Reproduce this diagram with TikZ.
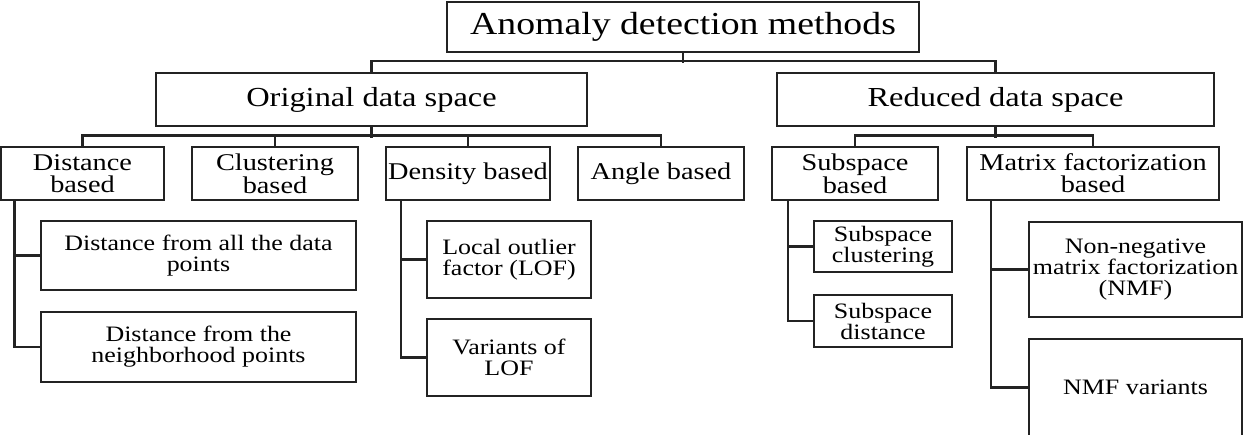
\documentclass[tikz,border=0pt]{standalone}
\usepackage{fontspec}
\setmainfont[FakeStretch=1.18]{Liberation Serif}
\definecolor{ln}{RGB}{35,35,35}
\begin{document}
\begin{tikzpicture}[x=1pt,y=-1pt,
  box/.style={draw=ln,line width=2.2pt,rectangle,inner sep=0pt,align=center,text=black},
  topfont/.style={font=\fontsize{32}{36}\selectfont},
  lvtwo/.style={font=\fontsize{27.5}{30}\selectfont},
  lvthree/.style={font=\fontsize{24}{21.7}\selectfont},
  leaf/.style={font=\fontsize{22}{21}\selectfont},
  conn/.style={draw=ln,line width=2.2pt}]
\path[use as bounding box] (0,0) rectangle (1252,434);
\clip (0,0) rectangle (1252,434);
% level 1
\node[box,topfont,minimum width=472pt,minimum height=50pt] (top) at (683,27) {Anomaly detection methods};
% level 2
\node[box,lvtwo,minimum width=431pt,minimum height=53pt] (orig) at (371.5,99.5) {Original data space};
\node[box,lvtwo,minimum width=437pt,minimum height=53pt] (red) at (995.5,99.5) {Reduced data space};
% level 3
\node[box,lvthree,minimum width=163pt,minimum height=53pt] (dist) at (82.5,173.5) {Distance\\based};
\node[box,lvthree,minimum width=166pt,minimum height=53pt] (clus) at (275,173.5) {Clustering\\based};
\node[box,lvthree,minimum width=164pt,minimum height=53pt] (dens) at (468,173.5) {Density based};
\node[box,lvthree,minimum width=166pt,minimum height=53pt] (angle) at (661,173.5) {Angle based};
\node[box,lvthree,minimum width=166pt,minimum height=53pt] (subb) at (855,173.5) {Subspace\\based};
\node[box,lvthree,minimum width=252pt,minimum height=53pt] (matb) at (1093,173.5) {Matrix factorization\\based};
% leaves
\node[box,leaf,minimum width=315pt,minimum height=69pt] (d1) at (198.5,255.5) {Distance from all the data\\points};
\node[box,leaf,minimum width=315pt,minimum height=70pt] (d2) at (198.5,347) {Distance from the\\neighborhood points};
\node[box,leaf,minimum width=164pt,minimum height=77pt] (lof) at (509,259.5) {Local outlier\\factor (LOF)};
\node[box,leaf,minimum width=164pt,minimum height=77pt] (vlof) at (509,357.5) {Variants of\\LOF};
\node[box,leaf,minimum width=138pt,minimum height=51pt] (sc) at (883,246.5) {Subspace\\clustering};
\node[box,leaf,minimum width=138pt,minimum height=52pt] (sd) at (883,321) {Subspace\\distance};
\node[box,leaf,minimum width=213pt,minimum height=95pt] (nmf) at (1135.5,269.5) {Non-negative\\matrix factorization\\(NMF)};
\node[box,leaf,minimum width=213pt,minimum height=97pt] (nmfv) at (1135.5,387.5) {NMF variants};
% connectors level 1 -> 2
\draw[conn] (top.south) -- ++(0,10);
\draw[conn] (orig.north) -- ++(0,-11) -| (red.north);
% original -> level 3
\draw[conn] (orig.south) -- ++(0,11);
\draw[conn] (dist.north) -- ++(0,-10.5) -| (angle.north);
\draw[conn] (clus.north) -- ++(0,-10.5);
\draw[conn] (dens.north) -- ++(0,-10.5);
% reduced -> level 3
\draw[conn] (red.south) -- ++(0,11);
\draw[conn] (subb.north) -- ++(0,-10.5) -| (matb.north);
% trunks
\coordinate (tdist) at ([xshift=14.5pt]dist.south west);
\draw[conn] (tdist) |- (d1.west);
\draw[conn] (tdist) |- (d2.west);
\coordinate (tdens) at ([xshift=16pt]dens.south west);
\draw[conn] (tdens) |- (lof.west);
\draw[conn] (tdens) |- (vlof.west);
\coordinate (tsub) at ([xshift=17pt]subb.south west);
\draw[conn] (tsub) |- (sc.west);
\draw[conn] (tsub) |- (sd.west);
\coordinate (tmat) at ([xshift=25pt]matb.south west);
\draw[conn] (tmat) |- (nmf.west);
\draw[conn] (tmat) |- (nmfv.west);
\end{tikzpicture}
\end{document}
